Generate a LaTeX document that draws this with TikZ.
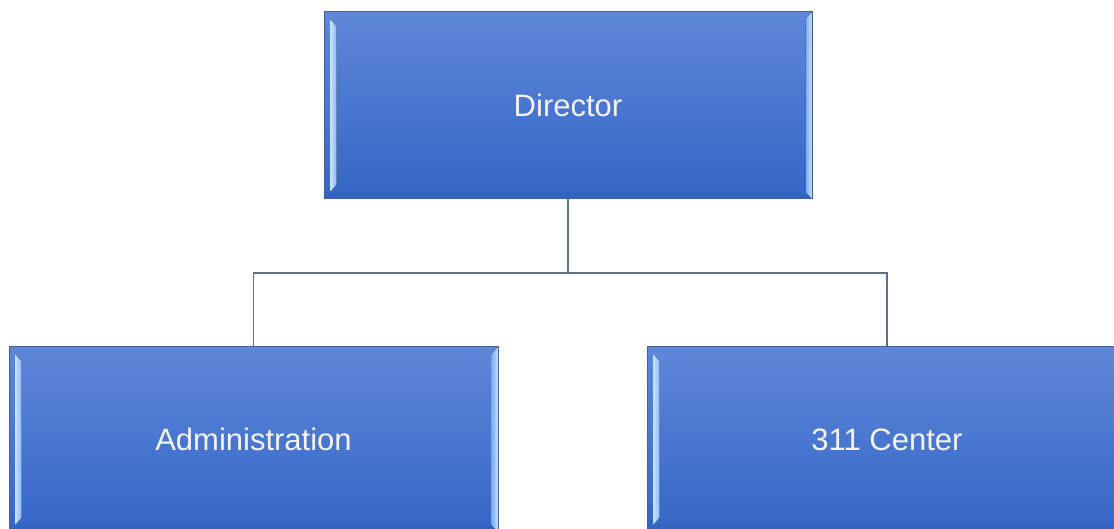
\documentclass[tikz,border=0pt]{standalone}
\usepackage{fontspec}
\setmainfont{Liberation Sans}
\usetikzlibrary{calc}
\definecolor{boxtop}{HTML}{5E87D8}
\definecolor{boxmid}{HTML}{4175D3}
\definecolor{boxbot}{HTML}{3566C6}
\definecolor{boxline}{HTML}{42619F}
\definecolor{hiA}{HTML}{8DB9F5}
\definecolor{hiB}{HTML}{C4E0FF}
\definecolor{lowband}{HTML}{2F5DB8}
\definecolor{linkcol}{HTML}{5B7191}
\definecolor{txtcol}{HTML}{F3F3F3}
\tikzset{
  orgbox/.style={rectangle, draw=boxline, line width=1pt, inner sep=0pt,
    top color=boxtop, middle color=boxmid, bottom color=boxbot,
    text=txtcol, font=\fontsize{31}{36}\selectfont},
  link/.style={draw=linkcol, line width=1.4pt},
}
\newcommand{\mybevel}[1]{%
  \fill[left color=hiB, right color=hiA]
    ($(#1.north west)+(7,-8)$) -- ($(#1.north west)+(13,-15)$) --
    ($(#1.south west)+(13,15)$) -- ($(#1.south west)+(7,8)$) -- cycle;
  \fill[left color=hiA!80!boxmid, right color=hiB]
    ($(#1.north east)+(-7,-7)$) -- ($(#1.north east)+(-0.5,-1)$) --
    ($(#1.south east)+(-0.5,1)$) -- ($(#1.south east)+(-7,7)$) -- cycle;
  \fill[lowband, opacity=0.35]
    ($(#1.south west)+(13,8)$) -- ($(#1.south east)+(-7,8)$) --
    ($(#1.south east)+(-1,1)$) -- ($(#1.south west)+(1,1)$) -- cycle;
}
\begin{document}
\begin{tikzpicture}[x=1pt,y=1pt]
\clip (0,0) rectangle (1114,529);
\fill[white] (0,0) rectangle (1114,529);
\node[orgbox, minimum width=488pt, minimum height=187pt] (dir) at (568,423.5) {Director};
\node[orgbox, minimum width=489pt, minimum height=185pt] (adm) at (253.5,89.5) {Administration};
\node[orgbox, minimum width=480pt, minimum height=185pt] (ctr) at (887,89.5) {311 Center};
\mybevel{dir}
\mybevel{adm}
\mybevel{ctr}
\coordinate (j) at (568,256);
\draw[link] (dir.south) -- (j);
\draw[link] (adm.north) |- (j) -| (ctr.north);
\end{tikzpicture}
\end{document}
